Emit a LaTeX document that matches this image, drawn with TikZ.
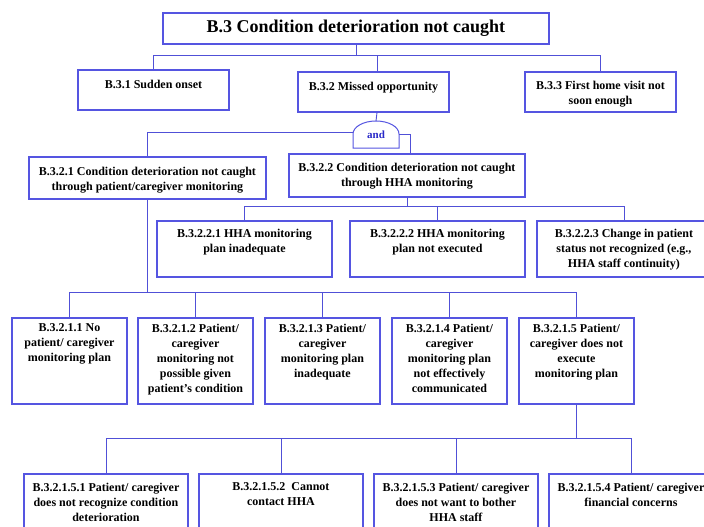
\documentclass[tikz,border=0pt]{standalone}
\usepackage{fontspec}
\setmainfont{Liberation Serif}
\usetikzlibrary{calc}
\definecolor{boxblue}{RGB}{85,85,225}
\definecolor{lineblue}{RGB}{80,80,215}
\definecolor{andblue}{RGB}{40,40,200}
\newcommand\btext[4][8]{\parbox[c][#3pt][t]{#2pt}{\centering\vspace*{#1pt}#4\par}}
\begin{document}
\begin{tikzpicture}[x=1pt,y=-1pt,
  bb/.style={draw=boxblue, line width=1.9pt, inner sep=0pt, anchor=north west, fill=white,
    font=\fontsize{12}{15}\selectfont\bfseries},
  conn/.style={draw=lineblue, line width=0.9pt},
  gateline/.style={draw=boxblue, line width=1pt, fill=white},
  andtext/.style={font=\fontsize{11}{13}\selectfont\bfseries, text=andblue, inner sep=0pt}
]
\clip (0,0) rectangle (704,527);
\fill[white] (0,0) rectangle (704,527);

% bus levels
\coordinate (bus1) at (0,55);
\coordinate (bus3) at (0,206);
\coordinate (bus4) at (0,292);
\coordinate (bus5) at (0,438);

% top
\node[bb, font=\fontsize{18}{21}\selectfont\bfseries] (n3) at (162,12)
  {\parbox[c][31pt][c]{386pt}{\centering B.3 Condition deterioration not caught}};

% level 2
\node[bb] (n31) at (77,69)  {\btext[10]{151}{40}{B.3.1 Sudden onset}};
\node[bb] (n32) at (297,71) {\btext[10]{151}{40}{B.3.2 Missed opportunity}};
\node[bb] (n33) at (524,71) {\btext[9]{151}{40}{B.3.3 First home visit not\\soon enough}};

% and gate
\draw[gateline] (353,148) -- (353,134) arc[start angle=180,end angle=0,x radius=23pt,y radius=13pt] -- (399,148) -- cycle;
\node[andtext] (andg) at (376,135) {and};
\coordinate (gT) at (376,121);
\coordinate (gL) at (353,132.5);
\coordinate (gR) at (399,134);

% level 3a
\node[bb] (n321) at (28,156) {\btext[10]{237}{42}{B.3.2.1 Condition deterioration not caught\\through patient/caregiver monitoring}};
\node[bb] (n322) at (288,153) {\btext[9.5]{236}{43}{B.3.2.2 Condition deterioration not caught\\through HHA monitoring}};

% level 3b
\node[bb] (n3221) at (156,220) {\btext[8]{175}{56}{B.3.2.2.1 HHA monitoring\\plan inadequate}};
\node[bb] (n3222) at (349,220) {\btext[8]{175}{56}{B.3.2.2.2 HHA monitoring\\plan not executed}};
\node[bb] (n3223) at (536,220) {\btext[8]{174}{56}{B.3.2.2.3 Change in patient\\status not recognized (e.g.,\\HHA staff continuity)}};

% level 4
\node[bb] (n3211) at (11,317)  {\btext[6]{115}{86}{B.3.2.1.1 No\\patient/ caregiver\\monitoring plan}};
\node[bb] (n3212) at (137,317) {\btext[6]{115}{86}{B.3.2.1.2 Patient/\\caregiver\\monitoring not\\possible given\\patient’s condition}};
\node[bb] (n3213) at (264,317) {\btext[6]{115}{86}{B.3.2.1.3 Patient/\\caregiver\\monitoring plan\\inadequate}};
\node[bb] (n3214) at (391,317) {\btext[6]{115}{86}{B.3.2.1.4 Patient/\\caregiver\\monitoring plan\\not effectively\\communicated}};
\node[bb] (n3215) at (518,317) {\btext[6]{115}{86}{B.3.2.1.5 Patient/\\caregiver does not\\execute\\monitoring plan}};

% level 5
\node[bb] (n32151) at (23,473)  {\btext[9]{164}{80}{B.3.2.1.5.1 Patient/ caregiver\\does not recognize condition\\deterioration}};
\node[bb] (n32152) at (198,473) {\btext[9]{164}{80}{B.3.2.1.5.2\ \ Cannot\\contact HHA}};
\node[bb] (n32153) at (373,473) {\btext[9]{164}{80}{B.3.2.1.5.3 Patient/ caregiver\\does not want to bother\\HHA staff}};
\node[bb] (n32154) at (548,473) {\btext[9]{164}{80}{B.3.2.1.5.4 Patient/ caregiver\\financial concerns}};

% connectors
\draw[conn] (n3.south) -- (n3.south |- bus1);
\draw[conn] (n31.north) |- (n33.north |- bus1) -- (n33.north);
\draw[conn] ([xshift=3.5pt]n32.north) -- ([xshift=3.5pt]n32.north |- bus1);

\draw[conn] ([xshift=3.5pt]n32.south) -- (gT);
\draw[conn] (gL) -| (n321.north);
\draw[conn] (gR) -| ([xshift=3pt]n322.north);

\draw[conn] (n322.south) -- (n322.south |- bus3);
\draw[conn] (n3221.north) |- (n3223.north |- bus3) -- (n3223.north);
\draw[conn] (n3222.north) -- (n3222.north |- bus3);

\draw[conn] (n321.south) -- (n321.south |- bus4);
\draw[conn] (n3211.north) |- (n3215.north |- bus4) -- (n3215.north);
\draw[conn] (n3212.north) -- (n3212.north |- bus4);
\draw[conn] (n3213.north) -- (n3213.north |- bus4);
\draw[conn] (n3214.north) -- (n3214.north |- bus4);

\draw[conn] (n3215.south) -- (n3215.south |- bus5);
\draw[conn] (n32151.north) |- (n32154.north |- bus5) -- (n32154.north);
\draw[conn] (n32152.north) -- (n32152.north |- bus5);
\draw[conn] (n32153.north) -- (n32153.north |- bus5);
\end{tikzpicture}
\end{document}
